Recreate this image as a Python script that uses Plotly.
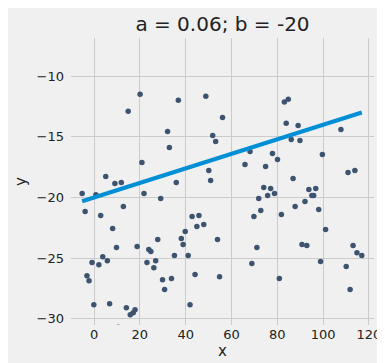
import numpy as np
import plotly.graph_objects as go

a = 0.06
b = -20

x_vals = [20.1, 14.9, 36.8, 48.8, 32.1, 32.9, 51.8, 53.1, 20.9, 5.1,
          50.1, 66.6, 56.1, 83.1, 84.8, 83.9, 89.1, 86.1, 89.9, 107.8,
          68.1, 77.9, 80.1, 65.9, 74.9, 99.7, 110.9, 113.9, 86.9, 50.9,
          35.9, 9.1, 11.9, -5.2, 0.8, 21.8, 29.1, -3.9, 12.8, 2.9,
          42.8, 45.8, 44.9, 47.9, 8.1, 39.8, 27.8, 38.1, 38.9, 53.9,
          9.8, 18.8, 23.9, 24.8, 3.8, 5.8, -0.9, 2.1, 26.9, 23.1,
          35.1, 41.1, 26.1, -3.1, -2.2, 44.1, 29.9, 33.8, 30.8, -0.1,
          6.8, 41.9, 14.1, 17.9, 17.1, 15.8, 10.6, 74.1, 77.1, 78.8,
          75.8, 71.9, 72.8, 69.8, 81.8, 93.8, 96.8, 95.1, 95.9, 92.1,
          87.8, 98.1, 101.1, 71.1, 90.8, 92.9, 113.1, 114.8, 116.9, 68.9,
          98.9, 110.1, 54.8, 80.9, 111.8]
y_vals = [-11.49, -12.89, -11.98, -11.65, -14.55, -15.87, -14.88, -15.37, -17.11, -18.26,
          -17.77, -6.6, -13.39, -12.12, -11.9, -13.88, -14.05, -15.21, -15.29, -14.38,
          -16.2, -16.36, -16.86, -17.27, -17.44, -16.45, -17.93, -17.77, -18.43, -18.6,
          -18.76, -18.84, -18.76, -19.67, -19.78, -19.67, -20.08, -21.16, -20.74, -21.49,
          -21.57, -21.49, -22.4, -22.23, -22.56, -22.81, -23.47, -23.39, -23.88, -23.47,
          -24.13, -24.05, -24.3, -24.46, -24.88, -25.21, -25.37, -25.54, -25.21, -25.37,
          -24.79, -24.79, -25.79, -26.45, -26.86, -26.36, -26.78, -26.69, -27.6, -28.84,
          -28.76, -28.84, -29.09, -29.26, -29.5, -29.67, -30.7, -19.17, -19.26, -19.67,
          -19.83, -20.08, -21.07, -21.57, -21.4, -19.34, -19.26, -19.83, -19.83, -20.33,
          -20.74, -20.99, -22.64, -24.13, -23.88, -23.97, -23.97, -24.55, -24.79, -25.45,
          -25.29, -25.7, -26.53, -26.69, -27.6]

x_ticks = [0, 20, 40, 60, 80, 100, 120]
y_ticks = [-30, -25, -20, -15, -10]

line_x = np.array([min(x_vals), max(x_vals)])
line_y = a * line_x + b

FONT = "DejaVu Sans"
TXT = "#222222"

fig = go.Figure()
fig.add_trace(go.Scatter(
    x=x_vals, y=y_vals, mode="markers",
    marker=dict(size=5.5, color="#3d5470", line=dict(width=0)),
    cliponaxis=True, showlegend=False, hoverinfo="skip"))
fig.add_trace(go.Scatter(
    x=line_x, y=line_y, mode="lines",
    line=dict(color="#008fd5", width=4),
    showlegend=False, hoverinfo="skip"))

fig.update_layout(
    width=385, height=363,
    margin=dict(l=62, r=14, t=30, b=46),
    paper_bgcolor="#f0f0f0", plot_bgcolor="#f0f0f0",
    font=dict(family=FONT, color=TXT, size=13),
    title=dict(text="a = 0.06; b = -20", x=0.5, xref="paper", xanchor="center",
               y=1 - 15.5 / 363, yref="container", yanchor="middle",
               font=dict(size=20, color=TXT, family=FONT)),
)
fig.update_xaxes(
    range=[-10.07, 122.24], tickvals=x_ticks, showgrid=True, gridcolor="#cbcbcb",
    gridwidth=1, zeroline=False, showline=False, ticks="", ticklabelstandoff=0,
    title=dict(text="x", font=dict(size=15, color=TXT), standoff=4),
    tickfont=dict(size=13, color=TXT))
fig.update_yaxes(
    range=[-30.52, -6.84], tickvals=y_ticks, showgrid=True, gridcolor="#cbcbcb",
    gridwidth=1, zeroline=False, showline=False, ticks="", ticklabelstandoff=6,
    title=dict(text="y", font=dict(size=15, color=TXT), standoff=6),
    tickfont=dict(size=13, color=TXT))

fig.write_html("out.html")
